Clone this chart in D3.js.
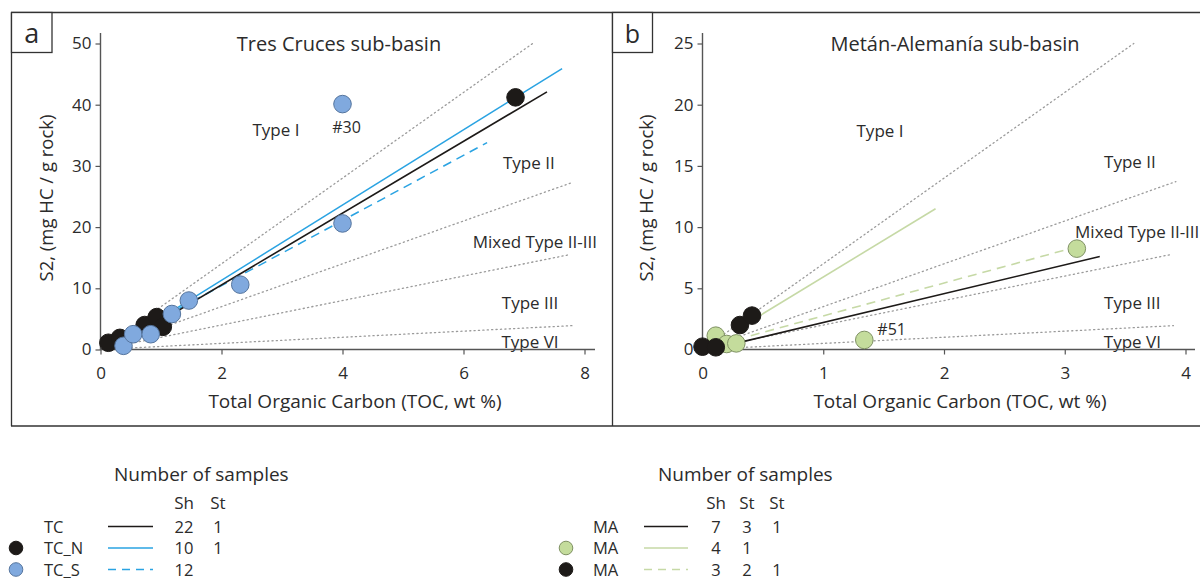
<!DOCTYPE html>
<html>
<head>
<meta charset="utf-8">
<script src="https://cdn.jsdelivr.net/npm/d3@7"></script>
<style>
  html, body { margin: 0; padding: 0; background: #fff; }
  svg { display: block; font-family: "Open Sans", "Noto Sans", sans-serif; }
</style>
</head>
<body>
<svg id="chart" width="1200" height="581"></svg>
<script>
// ---- Data -------------------------------------------------------------
// Hydrogen-index boundaries between kerogen types (S2 = slope * TOC)
const boundarySlopes = [7, 3.5, 2, 0.5];

// Panel a: Tres Cruces sub-basin
const tcNorthPoints = [ // [TOC, S2]
  [0.13, 1.1], [0.32, 1.9], [0.73, 4.0], [0.93, 5.3], [1.03, 3.7], [6.86, 41.2]
];
const tcSouthPoints = [
  [0.38, 0.6], [0.54, 2.5], [0.83, 2.5], [1.18, 5.8], [1.46, 8.0],
  [2.31, 10.6], [4.0, 20.6], [4.0, 40.1]
];
const tcAllFit   = [[0.9, 4.1], [7.38, 42.1]];
const tcNorthFit = [[1.2, 6.4], [7.63, 45.9]];
const tcSouthFit = [[1.3, 6.7], [6.39, 33.8]];
const tcTypeLabels = [
  ["Type I", 2.9, 34.9], ["Type II", 7.08, 29.5], ["Mixed Type II-III", 7.18, 16.6],
  ["Type III", 7.1, 6.6], ["Type VI", 7.1, 0.25]
];
const tcXTicks = [0, 2, 4, 6, 8];
const tcYTicks = [0, 10, 20, 30, 40, 50];

// Panel b: Metán-Alemanía sub-basin
const maGreenPoints = [
  [0.11, 1.13], [0.2, 0.45], [0.28, 0.5], [1.34, 0.78], [3.1, 8.24]
];
const maBlackPoints = [
  [0.0, 0.23], [0.11, 0.18], [0.31, 2.0], [0.41, 2.77]
];
const maAllFit    = [[0.3, 0.56], [3.29, 7.6]];
const maShaleFit  = [[0.38, 2.2], [1.93, 11.5]];
const maDashedFit = [[0.4, 1.13], [3.03, 8.2]];
const maTypeLabels = [
  ["Type I", 1.47, 17.4], ["Type II", 3.54, 14.8], ["Mixed Type II-III", 3.6, 9.1],
  ["Type III", 3.56, 3.3], ["Type VI", 3.56, 0.12]
];
const maXTicks = [0, 1, 2, 3, 4];
const maYTicks = [0, 5, 10, 15, 20, 25];

// Legend tables
const tcLegendRows = [
  { marker: null,    label: "TC",   line: "black", counts: ["22", "1"] },
  { marker: "black", label: "TC_N", line: "blue",  counts: ["10", "1"] },
  { marker: "blue",  label: "TC_S", line: "blueDash", counts: ["12"] }
];
const tcLegendHeads = ["Sh", "St"];
const maLegendRows = [
  { marker: null,    label: "MA", line: "black",     counts: ["7", "3", "1"] },
  { marker: "green", label: "MA", line: "green",     counts: ["4", "1"] },
  { marker: "black", label: "MA", line: "greenDash", counts: ["3", "2", "1"] }
];
const maLegendHeads = ["Sh", "St", "St"];

// ---- Styles -----------------------------------------------------------
const TEXT = "#2b2b2b";
const AXIS = "#555";
const markerStyle = {
  black: { fill: "#1d1a18", stroke: "#1d1a18" },
  blue:  { fill: "#80a9de", stroke: "#55759e" },
  green: { fill: "#c4dc9c", stroke: "#7f9163" }
};
const lineStyle = {
  black:     { stroke: "#1d1a18", width: 1.6, dash: null },
  blue:      { stroke: "#2aa3e2", width: 1.5, dash: null },
  blueDash:  { stroke: "#2aa3e2", width: 1.5, dash: "9,6" },
  green:     { stroke: "#c6d9a6", width: 1.6, dash: null },
  greenDash: { stroke: "#c6d9a6", width: 1.6, dash: "9,6" }
};

const svg = d3.select("#chart");

// Outer frame: top rule, left edge, divider, bottom rule
const frame = svg.append("g").attr("fill", "none").attr("stroke", "#333").attr("stroke-width", 1.3);
frame.append("line").attr("x1", 11).attr("x2", 1200).attr("y1", 12.5).attr("y2", 12.5);
frame.append("line").attr("x1", 11).attr("x2", 1200).attr("y1", 426).attr("y2", 426);
frame.append("line").attr("x1", 11.5).attr("x2", 11.5).attr("y1", 12.5).attr("y2", 426);
frame.append("line").attr("x1", 612.5).attr("x2", 612.5).attr("y1", 12.5).attr("y2", 426);

function drawPanel(cfg) {
  const g = svg.append("g");
  const x = d3.scaleLinear().domain(cfg.xDomain).range(cfg.xRange);
  const y = d3.scaleLinear().domain(cfg.yDomain).range([349.5, 43.5]);

  // panel letter box
  g.append("rect").attr("x", cfg.box[0]).attr("y", 12.5).attr("width", cfg.box[1]).attr("height", 40)
    .attr("fill", "#fff").attr("stroke", "#333").attr("stroke-width", 1.3);
  g.append("text").attr("x", cfg.box[0] + cfg.box[1] / 2).attr("y", 43)
    .attr("text-anchor", "middle").attr("font-size", cfg.letterSize).attr("fill", TEXT).text(cfg.letter);

  // title
  g.append("text").attr("x", cfg.titleX).attr("y", 51).attr("text-anchor", "middle")
    .attr("font-size", 20).attr("fill", TEXT).text(cfg.title);

  // kerogen-type boundary lines from the origin
  cfg.boundaryEnds.forEach((xe, i) => {
    const s = boundarySlopes[i];
    g.append("line")
      .attr("x1", x(0)).attr("y1", y(0))
      .attr("x2", x(xe)).attr("y2", y(s * xe))
      .attr("stroke", "#9a9a9a").attr("stroke-width", 1.3)
      .attr("stroke-dasharray", "1.2,3.2").attr("stroke-linecap", "round");
  });

  // type labels
  g.selectAll(".typeLabel").data(cfg.typeLabels).join("text")
    .attr("x", d => x(d[1])).attr("y", d => y(d[2]))
    .attr("text-anchor", "middle").attr("font-size", 17).attr("fill", TEXT)
    .text(d => d[0]);

  // axes
  const xAxis = d3.axisBottom(x).tickValues(cfg.xTicks).tickSize(5).tickPadding(12).tickFormat(d3.format("d"));
  const yAxis = d3.axisLeft(y).tickValues(cfg.yTicks).tickSize(5).tickPadding(4).tickFormat(d3.format("d"));
  const gx = g.append("g").attr("transform", `translate(0,${y(0)})`).call(xAxis);
  const gy = g.append("g").attr("transform", `translate(${x(0)},0)`).call(yAxis);
  [gx, gy].forEach(a => {
    a.select(".domain").remove();
    a.selectAll(".tick line").attr("stroke", AXIS).attr("stroke-width", 1.2);
    a.selectAll(".tick text").attr("font-size", 17).attr("fill", TEXT)
      .attr("font-family", '"Open Sans", sans-serif');
  });
  g.append("line").attr("x1", x(0)).attr("x2", cfg.xAxisEnd).attr("y1", y(0)).attr("y2", y(0))
    .attr("stroke", AXIS).attr("stroke-width", 1.4);
  g.append("line").attr("x1", x(0)).attr("x2", x(0)).attr("y1", 33).attr("y2", y(0))
    .attr("stroke", AXIS).attr("stroke-width", 1.4);

  // axis titles
  g.append("text").attr("x", cfg.xTitleX).attr("y", 408).attr("text-anchor", "middle")
    .attr("font-size", 19).attr("fill", TEXT).text("Total Organic Carbon (TOC, wt %)");
  g.append("text").attr("transform", `translate(${cfg.yTitleX},198) rotate(-90)`)
    .attr("text-anchor", "middle").attr("font-size", 18.5).attr("fill", TEXT)
    .text("S2, (mg HC / g rock)");

  // regression lines
  cfg.fits.forEach(f => {
    const st = lineStyle[f.style];
    g.append("line")
      .attr("x1", x(f.pts[0][0])).attr("y1", y(f.pts[0][1]))
      .attr("x2", x(f.pts[1][0])).attr("y2", y(f.pts[1][1]))
      .attr("stroke", st.stroke).attr("stroke-width", st.width)
      .attr("stroke-dasharray", st.dash);
  });

  // sample points
  cfg.points.forEach(p => {
    const st = markerStyle[p.style];
    g.append("g").selectAll("circle").data(p.data).join("circle")
      .attr("cx", d => x(d[0])).attr("cy", d => y(d[1])).attr("r", 8.8)
      .attr("fill", st.fill).attr("stroke", st.stroke).attr("stroke-width", 1);
  });

  // annotations
  cfg.notes.forEach(n => {
    g.append("text").attr("x", x(n.at[0]) + n.dx).attr("y", y(n.at[1]) + n.dy)
      .attr("text-anchor", n.anchor).attr("font-size", 16).attr("fill", TEXT).text(n.text);
  });
}

drawPanel({
  letter: "a", letterSize: 27, box: [11.5, 40.5],
  title: "Tres Cruces sub-basin", titleX: 339,
  xDomain: [0, 8], xRange: [100.5, 584.5], xAxisEnd: 595,
  yDomain: [0, 50],
  xTicks: tcXTicks, yTicks: tcYTicks,
  boundaryEnds: [50 / 7, 7.8, 7.75, 7.8],
  typeLabels: tcTypeLabels,
  xTitleX: 355, yTitleX: 53,
  fits: [
    { pts: tcSouthFit, style: "blueDash" },
    { pts: tcAllFit, style: "black" },
    { pts: tcNorthFit, style: "blue" }
  ],
  points: [
    { data: tcNorthPoints, style: "black" },
    { data: tcSouthPoints, style: "blue" }
  ],
  notes: [{ text: "#30", at: tcSouthPoints[7], dx: 4, dy: 29, anchor: "middle" }]
});

drawPanel({
  letter: "b", letterSize: 25, box: [612.5, 40],
  title: "Metán-Alemanía sub-basin", titleX: 955,
  xDomain: [0, 4], xRange: [702.5, 1185.5], xAxisEnd: 1195,
  yDomain: [0, 25],
  xTicks: maXTicks, yTicks: maYTicks,
  boundaryEnds: [25 / 7, 3.92, 3.88, 3.9],
  typeLabels: maTypeLabels,
  xTitleX: 960, yTitleX: 653,
  fits: [
    { pts: maShaleFit, style: "green" },
    { pts: maDashedFit, style: "greenDash" },
    { pts: maAllFit, style: "black" }
  ],
  points: [
    { data: maGreenPoints, style: "green" },
    { data: maBlackPoints, style: "black" }
  ],
  notes: [{ text: "#51", at: maGreenPoints[3], dx: 13, dy: -5, anchor: "start" }]
});

// ---- Legends ----------------------------------------------------------
function drawLegend(cfg) {
  const g = svg.append("g");
  g.append("text").attr("x", cfg.headX).attr("y", 481).attr("font-size", 19).attr("fill", TEXT)
    .text("Number of samples");
  cfg.heads.forEach((h, i) => {
    g.append("text").attr("x", cfg.colX[i]).attr("y", 509).attr("text-anchor", "middle")
      .attr("font-size", 17).attr("fill", TEXT).text(h);
  });
  const rowY = d3.scalePoint().domain(d3.range(cfg.rows.length)).range([526.5, 569.5]);
  cfg.rows.forEach((r, i) => {
    const yy = rowY(i);
    if (r.marker) {
      const st = markerStyle[r.marker];
      g.append("circle").attr("cx", cfg.markerX).attr("cy", yy).attr("r", 6.8)
        .attr("fill", st.fill).attr("stroke", st.stroke).attr("stroke-width", 1);
    }
    g.append("text").attr("x", cfg.labelX).attr("y", yy + 6).attr("font-size", 16.5).attr("fill", TEXT)
      .text(r.label);
    const ls = lineStyle[r.line];
    g.append("line").attr("x1", cfg.lineX[0]).attr("x2", cfg.lineX[1]).attr("y1", yy).attr("y2", yy)
      .attr("stroke", ls.stroke).attr("stroke-width", ls.width)
      .attr("stroke-dasharray", ls.dash ? "8,6" : null);
    r.counts.forEach((c, j) => {
      g.append("text").attr("x", cfg.colX[j]).attr("y", yy + 6).attr("text-anchor", "middle")
        .attr("font-size", 16.5).attr("fill", TEXT).text(c);
    });
  });
}

drawLegend({
  headX: 114, heads: tcLegendHeads, colX: [184, 218],
  rows: tcLegendRows, markerX: 16, labelX: 44, lineX: [108, 153]
});
drawLegend({
  headX: 658, heads: maLegendHeads, colX: [716, 747, 777],
  rows: maLegendRows, markerX: 566, labelX: 593, lineX: [644, 688]
});
</script>
</body>
</html>
